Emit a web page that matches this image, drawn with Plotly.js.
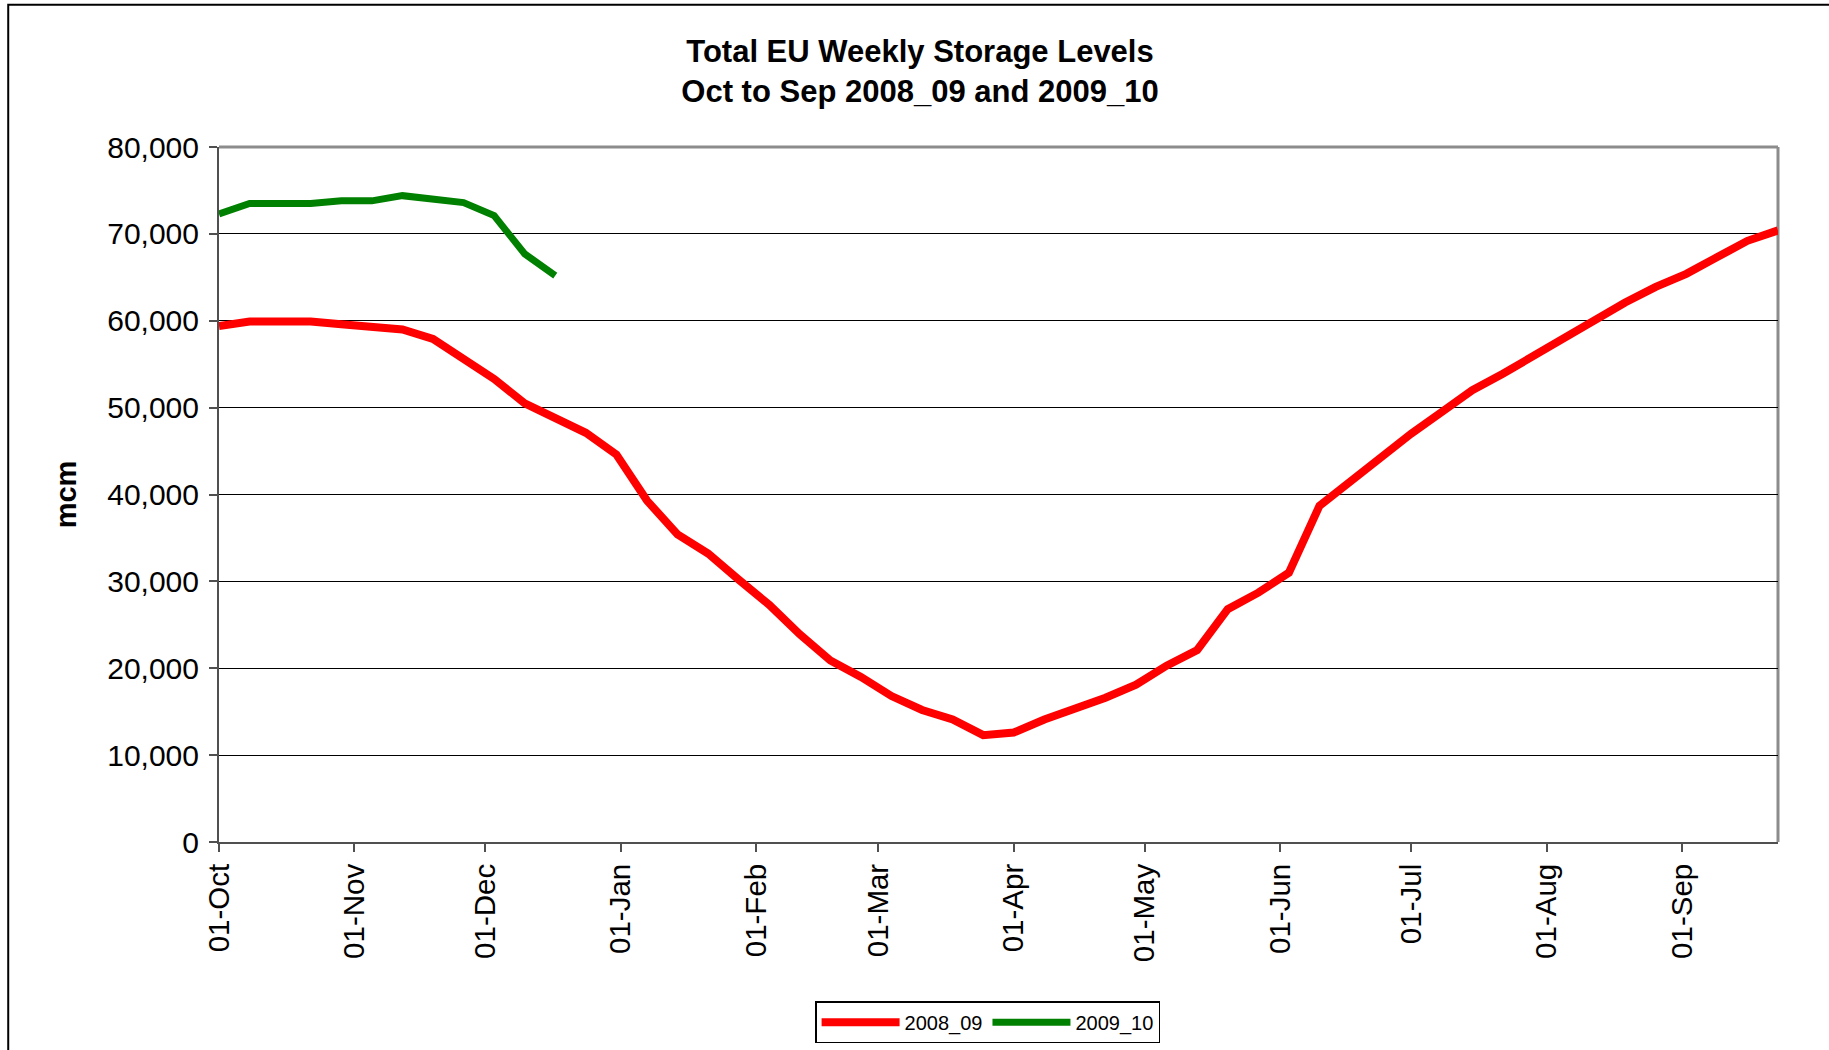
<!DOCTYPE html>
<html>
<head>
<meta charset="utf-8">
<script src="https://cdn.plot.ly/plotly-3.0.1.min.js"></script>
<style>
  html, body { margin: 0; padding: 0; background: #ffffff; }
  #chart { width: 1829px; height: 1050px; }
</style>
</head>
<body>
<div id="chart"></div>
<script>
// Weekly dates on the Oct-Sep axis
const weekDates = [
  '2008-10-01','2008-10-08','2008-10-15','2008-10-22','2008-10-29',
  '2008-11-05','2008-11-12','2008-11-19','2008-11-26',
  '2008-12-03','2008-12-10','2008-12-17','2008-12-24','2008-12-31',
  '2009-01-07','2009-01-14','2009-01-21','2009-01-28',
  '2009-02-04','2009-02-11','2009-02-18','2009-02-25',
  '2009-03-04','2009-03-11','2009-03-18','2009-03-25',
  '2009-04-01','2009-04-08','2009-04-15','2009-04-22','2009-04-29',
  '2009-05-06','2009-05-13','2009-05-20','2009-05-27',
  '2009-06-03','2009-06-10','2009-06-17','2009-06-24',
  '2009-07-01','2009-07-08','2009-07-15','2009-07-22','2009-07-29',
  '2009-08-05','2009-08-12','2009-08-19','2009-08-26',
  '2009-09-02','2009-09-09','2009-09-16','2009-09-23'
];

// Storage levels (mcm)
const storage2008_09 = [
  59400, 59900, 59900, 59900, 59600,
  59300, 59000, 57900, 55700,
  53300, 50500, 48700, 47100, 44600,
  39300, 35400, 33200, 30200,
  27300, 23900, 20900, 19000,
  16800, 15200, 14100, 12300,
  12600, 14100, 15300, 16600, 18100,
  20300, 22100, 26800, 28700,
  31000, 38700, 41500, 44400,
  47000, 49500, 52000, 53900, 56000,
  58100, 60200, 62100, 63900,
  65400, 67300, 69200, 70400
];

const storage2009_10 = [
  72300, 73500, 73500, 73500, 73800,
  73800, 74400, 74100, 73600,
  72100, 67700, 65200
];

// Axis ticks
const monthTicks = ['2008-10-01','2008-11-01','2008-12-01','2009-01-01','2009-02-01','2009-03-01',
                    '2009-04-01','2009-05-01','2009-06-01','2009-07-01','2009-08-01','2009-09-01'];
const monthLabels = ['01-Oct','01-Nov','01-Dec','01-Jan','01-Feb','01-Mar',
                     '01-Apr','01-May','01-Jun','01-Jul','01-Aug','01-Sep'];
const yTicks = [0, 10000, 20000, 30000, 40000, 50000, 60000, 70000, 80000];

const seriesNames = ['2008_09', '2009_10'];

const FONT = '"Liberation Sans", Arial, sans-serif';

const traces = [
  {
    x: weekDates,
    y: storage2008_09,
    name: seriesNames[0],
    type: 'scatter',
    mode: 'lines',
    line: { color: '#ff0000', width: 8 },
    hoverinfo: 'x+y'
  },
  {
    x: weekDates.slice(0, storage2009_10.length),
    y: storage2009_10,
    name: seriesNames[1],
    type: 'scatter',
    mode: 'lines',
    line: { color: '#008000', width: 7 },
    hoverinfo: 'x+y'
  }
];

const layout = {
  width: 1829,
  height: 1050,
  paper_bgcolor: '#ffffff',
  plot_bgcolor: '#ffffff',
  margin: { l: 219, r: 51, t: 147, b: 208, pad: 0, autoexpand: false },
  font: { family: FONT, color: '#000000' },
  title: {
    text: '<b>Total EU Weekly Storage Levels<br>Oct to Sep 2008_09 and 2009_10</b>',
    font: { family: FONT, size: 31, color: '#000000' },
    x: 0.503,
    xref: 'container',
    xanchor: 'center',
    y: 0.941,
    yref: 'container',
    yanchor: 'middle'
  },
  xaxis: {
    type: 'date',
    range: [weekDates[0], weekDates[weekDates.length - 1]],
    tickmode: 'array',
    tickvals: monthTicks,
    ticktext: monthLabels,
    tickangle: -90,
    tickfont: { family: FONT, size: 29.5, color: '#000000' },
    ticks: 'outside',
    ticklen: 8,
    tickwidth: 2,
    tickcolor: '#505050',
    showgrid: false,
    showline: true,
    linecolor: '#505050',
    linewidth: 2,
    zeroline: false,
    automargin: false,
    fixedrange: true
  },
  yaxis: {
    range: [0, 80000],
    tickmode: 'array',
    tickvals: yTicks,
    tickformat: ',d',
    tickfont: { family: FONT, size: 30, color: '#000000' },
    ticks: 'outside',
    ticklen: 8,
    tickwidth: 2,
    tickcolor: '#505050',
    ticklabelstandoff: 4,
    showgrid: true,
    gridcolor: '#000000',
    gridwidth: 1,
    showline: true,
    linecolor: '#505050',
    linewidth: 2,
    zeroline: false,
    automargin: false,
    title: {
      text: '<b>mcm</b>',
      font: { family: FONT, size: 29, color: '#000000' },
      standoff: 22
    },
    fixedrange: true
  },
  legend: {
    orientation: 'h',
    x: 0.493,
    xanchor: 'center',
    y: -0.229,
    yanchor: 'top',
    bordercolor: '#000000',
    borderwidth: 1.5,
    bgcolor: '#ffffff',
    font: { family: FONT, size: 20, color: '#000000' },
    itemwidth: 78,
    tracegroupgap: 0
  },
  shapes: [
    // plot area border (top and right) in grey
    { type: 'line', xref: 'paper', yref: 'paper', x0: 0, x1: 1, y0: 1, y1: 1,
      line: { color: '#8c8c8c', width: 3 }, layer: 'below' },
    { type: 'line', xref: 'paper', yref: 'paper', x0: 1, x1: 1, y0: 0, y1: 1,
      line: { color: '#8c8c8c', width: 3 }, layer: 'below' },
    // outer chart border
    { type: 'rect', xref: 'paper', yref: 'paper', x0: -0.1352, x1: 1.05, y0: -0.32, y1: 1.2047,
      line: { color: '#000000', width: 2 }, fillcolor: 'rgba(0,0,0,0)', layer: 'above' }
  ],
  showlegend: true
};

Plotly.newPlot('chart', traces, layout, { displayModeBar: false, staticPlot: false });
</script>
</body>
</html>
